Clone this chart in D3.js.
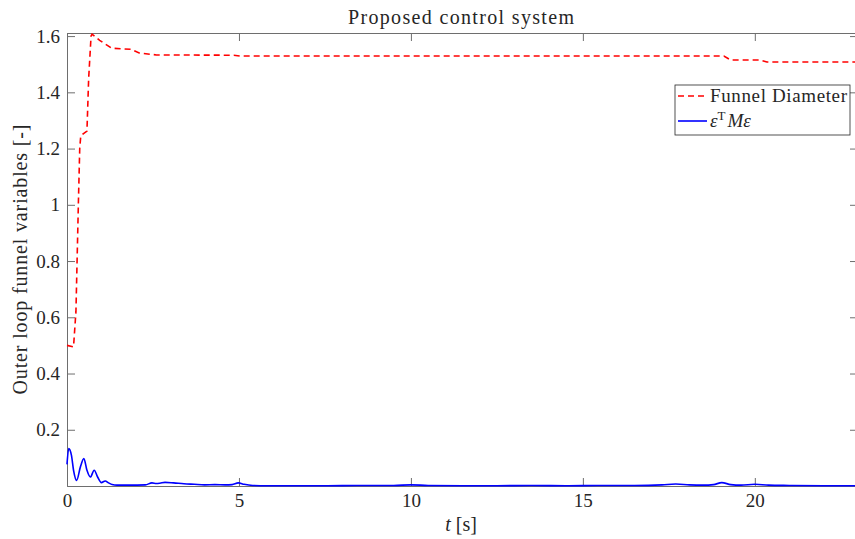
<!DOCTYPE html>
<html>
<head>
<meta charset="utf-8">
<script src="https://cdn.jsdelivr.net/npm/d3@7"></script>
<style>
  body { margin: 0; background: #fff; }
  text { font-family: "Liberation Serif", "Times New Roman", serif; fill: #262626; }
</style>
</head>
<body>
<div id="chart"></div>
<script>
// funnel diameter (red dashed)
let funnelT = [0, 0.19, 0.26, 0.33, 0.37, 0.40, 0.50, 0.58, 0.63, 0.70, 0.73, 0.95, 1.30, 1.85, 2.10, 2.60, 4.85, 5.05, 19.1, 19.3, 20.15, 20.35, 23]
let funnelY = [0.50, 0.495, 0.62, 1.0, 1.2, 1.245, 1.255, 1.262, 1.45, 1.60, 1.607, 1.585, 1.557, 1.553, 1.540, 1.533, 1.532, 1.529, 1.529, 1.515, 1.515, 1.508, 1.508]

// eps^T M eps (blue)
let errT = [0, 0.05, 0.13, 0.19, 0.28, 0.39, 0.49, 0.58, 0.68, 0.79, 0.89, 1.0, 1.11, 1.21, 1.31, 1.45, 1.8, 2.28, 2.47, 2.6, 2.7, 2.85, 3.1, 3.4, 3.7, 4.0, 4.3, 4.6, 4.8, 4.98, 5.15, 5.4, 5.8, 6.5, 7.5, 8.5, 9.5, 10.0, 10.5, 11.5, 12.5, 13.5, 14.5, 15.5, 16.5, 17.3, 17.7, 18.1, 18.5, 18.8, 19.04, 19.3, 19.6, 20.0, 20.4, 21, 22, 23]
let errY = [0.077, 0.133, 0.109, 0.056, 0.020, 0.068, 0.098, 0.056, 0.032, 0.056, 0.032, 0.012, 0.018, 0.011, 0.005, 0.003, 0.003, 0.004, 0.011, 0.009, 0.010, 0.013, 0.011, 0.008, 0.006, 0.004, 0.005, 0.004, 0.005, 0.011, 0.006, 0.002, 0.001, 0.001, 0.001, 0.002, 0.002, 0.004, 0.002, 0.001, 0.001, 0.002, 0.001, 0.002, 0.002, 0.004, 0.007, 0.004, 0.003, 0.005, 0.012, 0.005, 0.003, 0.006, 0.003, 0.002, 0.001, 0.001]

let xTicks = [0, 5, 10, 15, 20]
let yTicks = [0.2, 0.4, 0.6, 0.8, 1, 1.2, 1.4, 1.6]
let xDomain = [0, 23]
let yDomain = [0, 1.611]

let titleText = "Proposed control system"
let yLabelText = "Outer loop funnel variables [-]"
let legendNames = ["Funnel Diameter", "eps"]

const W = 855, H = 539
const margin = {top: 33, left: 67, bottom: 53}
const plotW = 858 - margin.left
const plotH = H - margin.top - margin.bottom
const tickLen = 8

const svg = d3.select("#chart").append("svg")
    .attr("width", W)
    .attr("height", H)

const g = svg.append("g")
    .attr("transform", `translate(${margin.left},${margin.top})`)

const x = d3.scaleLinear().domain(xDomain).range([0, plotW])
const y = d3.scaleLinear().domain(yDomain).range([plotH, 0])

// axes, matlab style: inward ticks, box on
const axisColor = "#6e6e6e"

g.append("g")
    .attr("transform", `translate(0,${plotH})`)
    .call(d3.axisBottom(x).tickValues(xTicks).tickSize(-tickLen).tickPadding(8).tickFormat(d3.format("d")))
    .call(a => a.select(".domain").attr("stroke", axisColor))
    .call(a => a.selectAll("line").attr("stroke", axisColor))
    .call(a => a.selectAll("text").style("font-size", "19px").attr("fill", "#262626"))

g.append("g")
    .call(d3.axisTop(x).tickValues(xTicks).tickSize(-tickLen).tickFormat(""))
    .call(a => a.select(".domain").attr("stroke", axisColor))
    .call(a => a.selectAll("line").attr("stroke", axisColor))

g.append("g")
    .call(d3.axisLeft(y).tickValues(yTicks).tickSize(-tickLen).tickPadding(7).tickFormat(d => d === 1 ? "1" : d3.format(".1f")(d)))
    .call(a => a.select(".domain").attr("stroke", axisColor))
    .call(a => a.selectAll("line").attr("stroke", axisColor))
    .call(a => a.selectAll("text").style("font-size", "19px").attr("fill", "#262626"))

g.append("g")
    .attr("transform", `translate(${plotW},0)`)
    .call(d3.axisRight(y).tickValues(yTicks).tickSize(-tickLen).tickFormat(""))
    .call(a => a.select(".domain").attr("stroke", axisColor))
    .call(a => a.selectAll("line").attr("stroke", axisColor))

// lines
const funnelData = funnelT.map((t, i) => ({t: t, v: funnelY[i]}))
const errData = errT.map((t, i) => ({t: t, v: errY[i]}))

const straight = d3.line().x(d => x(d.t)).y(d => y(d.v))
const smooth = d3.line().x(d => x(d.t)).y(d => y(d.v)).curve(d3.curveMonotoneX)

g.append("path")
    .datum(errData)
    .attr("d", smooth)
    .attr("fill", "none")
    .attr("stroke", "#0000ff")
    .attr("stroke-width", 1.6)

g.append("path")
    .datum(funnelData)
    .attr("d", straight)
    .attr("fill", "none")
    .attr("stroke", "#ff0000")
    .attr("stroke-width", 1.6)
    .attr("stroke-dasharray", "6,4")

// title and labels
svg.append("text")
    .attr("x", 461).attr("y", 24)
    .attr("text-anchor", "middle")
    .attr("textLength", 226)
    .style("font-size", "20px")
    .text(titleText)

svg.append("text")
    .attr("transform", `translate(27,${margin.top + plotH / 2}) rotate(-90)`)
    .attr("text-anchor", "middle")
    .attr("textLength", 270)
    .style("font-size", "20px")
    .text(yLabelText)

const xl = svg.append("text")
    .attr("x", 461).attr("y", 531)
    .attr("text-anchor", "middle")
    .style("font-size", "20px")
xl.append("tspan").style("font-style", "italic").text("t")
xl.append("tspan").text(" [s]")

// legend
const leg = svg.append("g").attr("transform", "translate(675,85)")
leg.append("rect")
    .attr("width", 175).attr("height", 50)
    .attr("fill", "#fff")
    .attr("stroke", "#262626")
    .attr("stroke-width", 0.8)

leg.append("line")
    .attr("x1", 3).attr("x2", 32).attr("y1", 11).attr("y2", 11)
    .attr("stroke", "#ff0000").attr("stroke-width", 1.6)
    .attr("stroke-dasharray", "6,4")
leg.append("text")
    .attr("x", 35).attr("y", 17)
    .attr("textLength", 137)
    .style("font-size", "19px")
    .text(legendNames[0])

leg.append("line")
    .attr("x1", 3).attr("x2", 32).attr("y1", 36).attr("y2", 36)
    .attr("stroke", "#0000ff").attr("stroke-width", 1.6)
const lt = leg.append("text")
    .attr("x", 35).attr("y", 42)
    .style("font-size", "19px")
lt.append("tspan").style("font-style", "italic").text("ε")
lt.append("tspan").attr("dy", -7).style("font-size", "13px").text("T")
lt.append("tspan").attr("dy", 7).attr("dx", 2).style("font-style", "italic").text("Mε")
</script>
</body>
</html>
